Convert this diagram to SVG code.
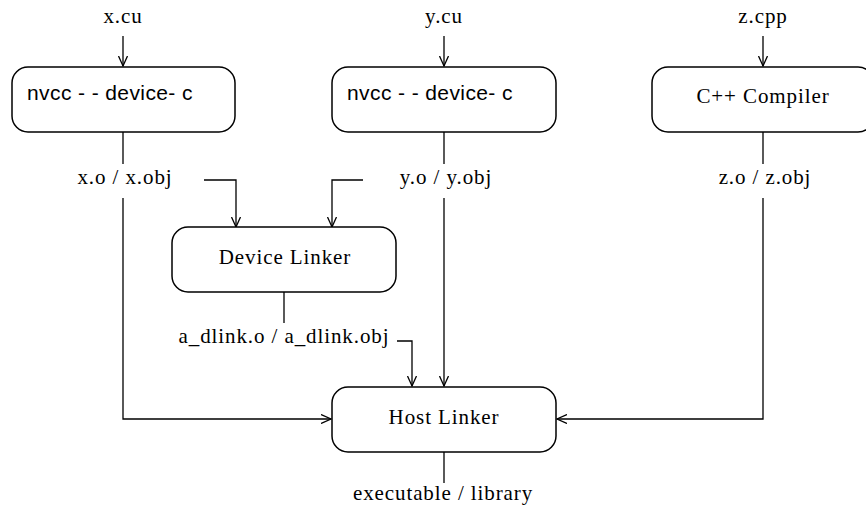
<svg xmlns="http://www.w3.org/2000/svg" width="866" height="506" viewBox="0 0 866 506">
<defs>
<style>
.box{fill:#fff;stroke:#000;stroke-width:1.5}
.ln{fill:none;stroke:#000;stroke-width:1.3}
.arr{marker-end:url(#ah)}
.t{font-family:"Liberation Serif","Times New Roman",serif;font-size:21px;letter-spacing:0.9px;fill:#000;text-anchor:middle}
.s{font-family:"Liberation Sans",Arial,sans-serif;font-size:21px;letter-spacing:0.4px;fill:#000}
</style>
<marker id="ah" markerWidth="12" markerHeight="10" refX="10" refY="5" orient="auto" markerUnits="userSpaceOnUse">
<polyline points="0,0.5 10,5 0,9.5" fill="none" stroke="#000" stroke-width="1.3"/>
</marker>
</defs>
<rect width="866" height="506" fill="#fff"/>
<g id="connectors">
<line class="ln arr" x1="123" y1="36" x2="123" y2="66"/>
<line class="ln arr" x1="444" y1="36" x2="444" y2="66"/>
<line class="ln arr" x1="763" y1="36" x2="763" y2="66"/>
<line class="ln" x1="123" y1="132" x2="123" y2="164"/>
<line class="ln" x1="444" y1="132" x2="444" y2="164"/>
<line class="ln" x1="763" y1="132" x2="763" y2="164"/>
<polyline class="ln arr" points="204,180 236,180 236,227"/>
<polyline class="ln arr" points="363,180 332,180 332,227"/>
<polyline class="ln arr" points="123,198 123,419 331,419"/>
<line class="ln arr" x1="444" y1="198" x2="444" y2="386"/>
<polyline class="ln arr" points="763,198 763,419 557,419"/>
<line class="ln" x1="284" y1="292" x2="284" y2="323"/>
<polyline class="ln arr" points="397,341 412,341 412,386"/>
<line class="ln" x1="444" y1="452" x2="444" y2="483"/>
</g>
<g id="src-x"><text class="t" x="123" y="23">x.cu</text></g>
<g id="src-y"><text class="t" x="444" y="23">y.cu</text></g>
<g id="src-z"><text class="t" x="763" y="23">z.cpp</text></g>
<g id="nvcc-x">
<rect class="box" x="12" y="67" width="223" height="65" rx="16"/>
<text class="s" x="27" y="100">nvcc - - device- c</text>
</g>
<g id="nvcc-y">
<rect class="box" x="332" y="67" width="224" height="65" rx="16"/>
<text class="s" x="347" y="100">nvcc - - device- c</text>
</g>
<g id="cpp">
<rect class="box" x="652" y="67" width="222" height="65" rx="16"/>
<text class="t" x="763" y="103">C++ Compiler</text>
</g>
<g id="xo"><text class="t" x="125" y="184">x.o / x.obj</text></g>
<g id="yo"><text class="t" x="446" y="184">y.o / y.obj</text></g>
<g id="zo"><text class="t" x="765" y="184">z.o / z.obj</text></g>
<g id="device-linker">
<rect class="box" x="172" y="227" width="224" height="65" rx="16"/>
<text class="t" x="285" y="264">Device Linker</text>
</g>
<g id="dlink"><text class="t" x="284" y="343">a_dlink.o / a_dlink.obj</text></g>
<g id="host-linker">
<rect class="box" x="332" y="387" width="224" height="65" rx="16"/>
<text class="t" x="444" y="424">Host Linker</text>
</g>
<g id="out"><text class="t" x="443" y="500">executable / library</text></g>
</svg>
